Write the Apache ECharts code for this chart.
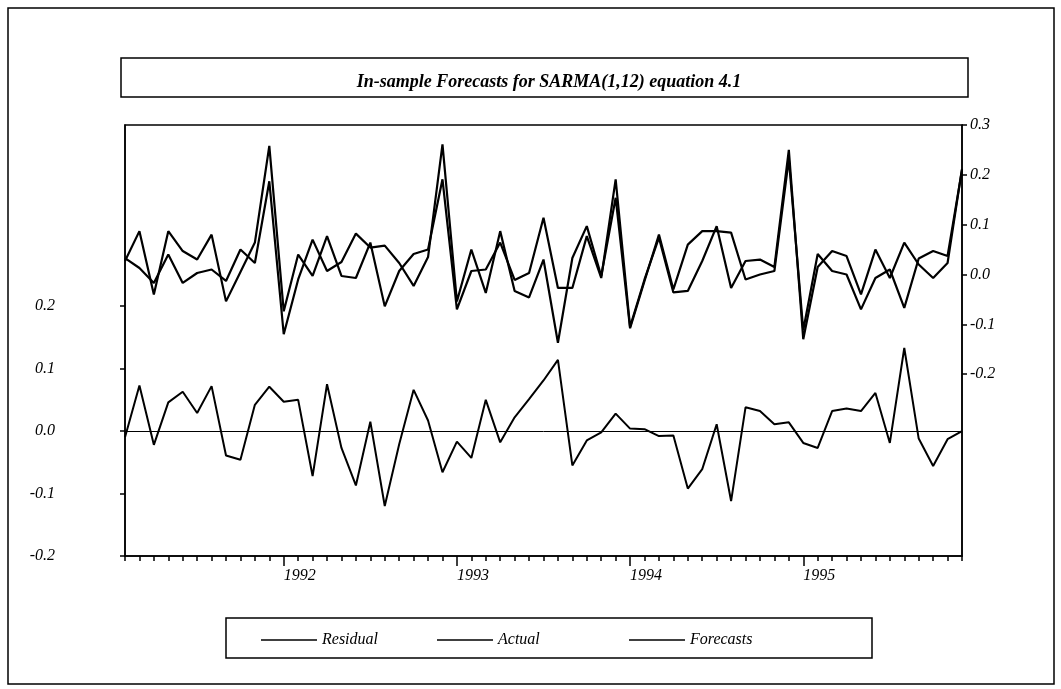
<!DOCTYPE html>
<html>
<head>
<meta charset="utf-8">
<script src="https://cdn.jsdelivr.net/npm/echarts@6/dist/echarts.min.js"></script>
<style>
  html, body { margin: 0; padding: 0; background: #fff; }
  #chart { width: 1061px; height: 689px; }
</style>
</head>
<body>
<div id="chart"></div>
<script>
// monthly sample 1991M02 - 1995M12
const months = []
for (let y = 1991; y <= 1995; y++) {
  for (let m = 1; m <= 12; m++) {
    if (y === 1991 && m === 1) continue
    months.push(y + 'M' + (m < 10 ? '0' + m : m))
  }
}

const residual = [
  -0.010, 0.073, -0.022, 0.046, 0.063, 0.029, 0.072, -0.039, -0.046, 0.042,
  0.071, 0.047, 0.050, -0.072, 0.075, -0.027, -0.087, 0.015, -0.120, -0.021,
  0.066, 0.017, -0.066, -0.017, -0.043, 0.050, -0.018, 0.022, 0.051, 0.081,
  0.114, -0.055, -0.015, -0.002, 0.028, 0.004, 0.003, -0.008, -0.007, -0.092,
  -0.061, 0.011, -0.112, 0.038, 0.032, 0.011, 0.014, -0.019, -0.027, 0.032,
  0.036, 0.032, 0.061, -0.019, 0.133, -0.012, -0.056, -0.013, 0.000
]

const actual = [
  0.027, 0.087, -0.040, 0.087, 0.047, 0.030, 0.080, -0.054, 0.005, 0.064,
  0.258, -0.074, 0.040, -0.003, 0.077, -0.003, -0.007, 0.064, -0.064, 0.007,
  0.041, 0.050, 0.191, -0.070, 0.007, 0.010, 0.064, -0.011, 0.003, 0.114,
  -0.027, -0.027, 0.077, -0.007, 0.191, -0.105, -0.010, 0.074, -0.036, -0.033,
  0.027, 0.097, -0.027, 0.027, 0.030, 0.015, 0.250, -0.130, 0.015, 0.047,
  0.037, -0.040, 0.050, -0.007, 0.064, 0.020, -0.007, 0.023, 0.212
]

const forecasts = [
  0.033, 0.013, -0.017, 0.040, -0.017, 0.003, 0.010, -0.013, 0.050, 0.023,
  0.187, -0.120, -0.010, 0.070, 0.007, 0.025, 0.082, 0.054, 0.058, 0.023,
  -0.023, 0.035, 0.261, -0.054, 0.050, -0.037, 0.087, -0.033, -0.046, 0.030,
  -0.137, 0.033, 0.097, -0.003, 0.154, -0.108, -0.013, 0.080, -0.030, 0.060,
  0.087, 0.087, 0.084, -0.010, 0.000, 0.007, 0.232, -0.112, 0.041, 0.007,
  0.000, -0.070, -0.007, 0.010, -0.067, 0.032, 0.047, 0.037, 0.210
]

const leftTicks = [-0.2, -0.1, 0.0, 0.1, 0.2]
const rightTicks = [-0.2, -0.1, 0.0, 0.1, 0.2, 0.3]

const serif = '"Liberation Serif", "DejaVu Serif", serif'
const isJan = (index, value) => String(value).slice(5) === '01'

const legendText = {
  fontFamily: serif,
  fontStyle: 'italic',
  fontSize: 16,
  color: '#000'
}
const legendBase = {
  top: 627,
  icon: 'rect',
  itemWidth: 56,
  itemHeight: 1.6,
  itemGap: 6,
  selectedMode: false,
  itemStyle: { color: '#000' },
  textStyle: legendText
}

const option = {
  animation: false,
  backgroundColor: '#fff',
  title: {
    text: 'In-sample Forecasts for SARMA(1,12) equation 4.1',
    left: 544,
    top: 68,
    textAlign: 'center',
    textStyle: {
      fontFamily: serif,
      fontStyle: 'italic',
      fontWeight: 'bold',
      fontSize: 18,
      color: '#000'
    }
  },
  graphic: [
    { type: 'rect', shape: { x: 8, y: 8, width: 1046, height: 676 }, style: { fill: null, stroke: '#000', lineWidth: 1.5 }, silent: true },
    { type: 'rect', shape: { x: 121, y: 58, width: 847, height: 39 }, style: { fill: null, stroke: '#000', lineWidth: 1.5 }, silent: true },
    { type: 'rect', shape: { x: 226, y: 618, width: 646, height: 40 }, style: { fill: null, stroke: '#000', lineWidth: 1.5 }, silent: true }
  ],
  legend: [
    Object.assign({ data: ['Residual'], left: 256 }, legendBase),
    Object.assign({ data: ['Actual'], left: 432 }, legendBase),
    Object.assign({ data: ['Forecasts'], left: 624 }, legendBase)
  ],
  grid: {
    left: 125,
    right: 99,
    top: 125,
    bottom: 133,
    show: true,
    borderColor: '#000',
    borderWidth: 1.5,
    backgroundColor: 'transparent'
  },
  xAxis: [
    {
      type: 'category',
      data: months,
      boundaryGap: false,
      axisLine: { onZero: false, lineStyle: { color: '#000', width: 1.5 } },
      axisTick: { show: true, interval: 0, length: 5, lineStyle: { color: '#000', width: 1.5 } },
      axisLabel: {
        interval: isJan,
        formatter: v => v.slice(0, 4),
        align: 'left',
        margin: 12,
        fontFamily: serif,
        fontStyle: 'italic',
        fontSize: 16,
        color: '#000'
      },
      splitLine: { show: false }
    },
    {
      type: 'category',
      data: months,
      boundaryGap: false,
      position: 'bottom',
      axisLine: { show: false, onZero: false },
      axisTick: { show: true, interval: isJan, length: 10, lineStyle: { color: '#000', width: 1.5 } },
      axisLabel: { show: false },
      splitLine: { show: false }
    }
  ],
  yAxis: [
    {
      type: 'value',
      position: 'left',
      min: -0.2,
      max: 0.49,
      axisLine: { show: true, lineStyle: { color: '#000', width: 1.5 } },
      axisTick: { show: true, length: 5, customValues: leftTicks, lineStyle: { color: '#000', width: 1.5 } },
      axisLabel: {
        customValues: leftTicks,
        formatter: v => v.toFixed(1),
        margin: 70,
        fontFamily: serif,
        fontStyle: 'italic',
        fontSize: 16,
        color: '#000'
      },
      splitLine: { show: false }
    },
    {
      type: 'value',
      position: 'right',
      min: -0.565,
      max: 0.3,
      axisLine: { show: true, lineStyle: { color: '#000', width: 1.5 } },
      axisTick: { show: true, length: 5, customValues: rightTicks, lineStyle: { color: '#000', width: 1.5 } },
      axisLabel: {
        customValues: rightTicks,
        formatter: v => v.toFixed(1),
        margin: 8,
        fontFamily: serif,
        fontStyle: 'italic',
        fontSize: 16,
        color: '#000'
      },
      splitLine: { show: false }
    }
  ],
  series: [
    {
      name: 'Residual',
      type: 'line',
      xAxisIndex: 0,
      yAxisIndex: 0,
      data: residual,
      symbol: 'none',
      lineStyle: { color: '#000', width: 2 },
      itemStyle: { color: '#000' },
      markLine: {
        silent: true,
        symbol: 'none',
        label: { show: false },
        lineStyle: { color: '#000', width: 1, type: 'solid' },
        data: [{ yAxis: 0 }]
      }
    },
    {
      name: 'Actual',
      type: 'line',
      xAxisIndex: 0,
      yAxisIndex: 1,
      data: actual,
      symbol: 'none',
      lineStyle: { color: '#000', width: 2.2 },
      itemStyle: { color: '#000' }
    },
    {
      name: 'Forecasts',
      type: 'line',
      xAxisIndex: 0,
      yAxisIndex: 1,
      data: forecasts,
      symbol: 'none',
      lineStyle: { color: '#000', width: 2.2 },
      itemStyle: { color: '#000' }
    }
  ]
}

const myChart = echarts.init(document.getElementById('chart'))
myChart.setOption(option)
window.addEventListener('resize', () => {
  myChart.resize()
})
</script>
</body>
</html>
